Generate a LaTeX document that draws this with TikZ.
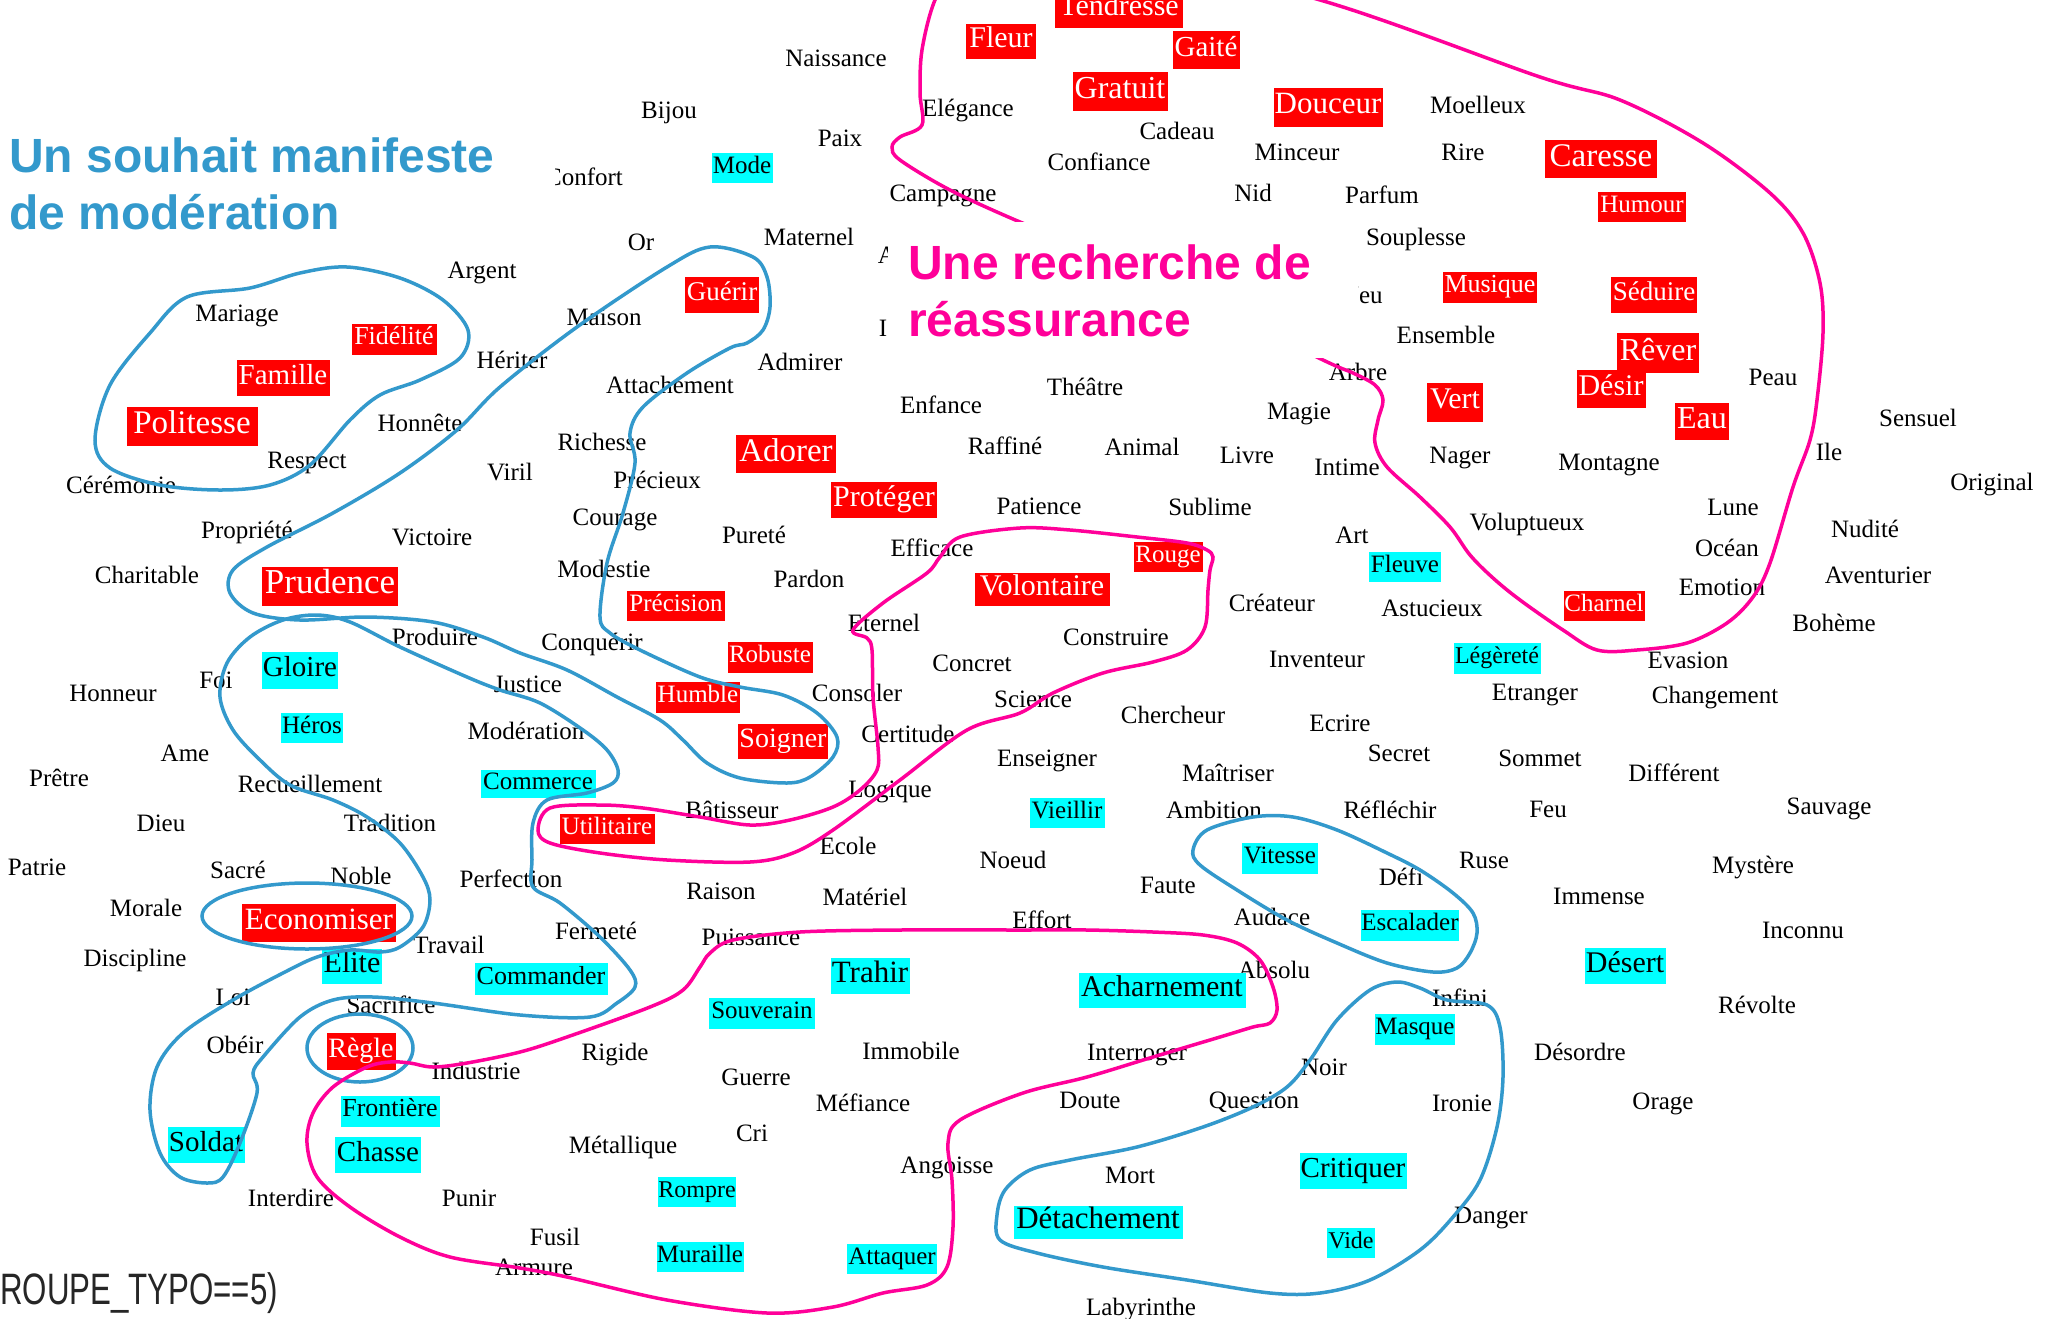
\documentclass[tikz,border=0pt]{standalone}
\usepackage{graphicx}
\usepackage{fontspec}
\setmainfont{Liberation Serif}
\newfontfamily\titlefont{Liberation Sans}
\usepackage{tikz}
\usetikzlibrary{positioning}
\definecolor{loopblue}{RGB}{51,153,204}
\definecolor{looppink}{RGB}{255,0,153}
\definecolor{hlred}{RGB}{255,0,0}
\definecolor{hlcyan}{RGB}{0,255,255}
\newcommand{\wsz}[1]{\fontsize{#1}{#1}\selectfont}

\begin{document}
\begin{tikzpicture}[x=1pt,y=-1pt,
  word/.style={font=\wsz{25},inner sep=0pt,text height=21,text depth=4},
  redw/.style={fill=hlred,text=white,inner sep=0pt,font=\wsz{#1},text height={0.66*#1},text depth={0.22*#1}},
  cyanw/.style={fill=hlcyan,text=black,inner sep=0pt,font=\wsz{#1},text height={0.66*#1},text depth={0.22*#1}},
  blueloop/.style={draw=loopblue,line width=3.5pt},
  pinkloop/.style={draw=looppink,line width=3.5pt},
  bigtitle/.style={anchor=base west,inner sep=0pt,font=\titlefont\bfseries\wsz{48}}]
\useasboundingbox (0,0) rectangle (2056,1318);
\fill[white] (0,0) rectangle (2056,1318);

% plain words
\node (naissance) [word] at (836,58) {Naissance};
\node (bijou) [word] at (669,110) {Bijou};
\node (paix) [word] at (840,138) {Paix};
\node (confort) [word] at (584,177) {Confort};
\node (or) [word] at (641,242) {Or};
\node (maternel) [word] at (809,237) {Maternel};
\node (argent) [word] at (482,270) {Argent};
\node (mariage) [word] at (237,313) {Mariage};
\node (maison) [word] at (604,317) {Maison};
\node (heriter) [word] at (512,360) {Hériter};
\node (admirer) [word] at (800,362) {Admirer};
\node (attachement) [word] at (670,385) {Attachement};
\node (honnete) [word] at (420,423) {Honnête};
\node (respect) [word] at (307,460) {Respect};
\node (ceremonie) [word] at (121,485) {Cérémonie};
\node (viril) [word] at (510,472) {Viril};
\node (richesse) [word] at (602,442) {Richesse};
\node (precieux) [word] at (657,480) {Précieux};
\node (propriete) [word] at (247,530) {Propriété};
\node (victoire) [word] at (432,537) {Victoire};
\node (charitable) [word] at (147,575) {Charitable};
\node (courage) [word] at (615,517) {Courage};
\node (purete) [word] at (754,535) {Pureté};
\node (modestie) [word] at (604,569) {Modestie};
\node (pardon) [word] at (809,579) {Pardon};
\node (produire) [word] at (435,637) {Produire};
\node (foi) [word] at (216,680) {Foi};
\node (honneur) [word] at (113,693) {Honneur};
\node (justice) [word] at (528,684) {Justice};
\node (conquerir) [word] at (592,642) {Conquérir};
\node (moderation) [word] at (526,731) {Modération};
\node (ame) [word] at (185,753) {Ame};
\node (pretre) [word] at (59,778) {Prêtre};
\node (recueillement) [word] at (310,784) {Recueillement};
\node (dieu) [word] at (161,823) {Dieu};
\node (tradition) [word] at (390,823) {Tradition};
\node (patrie) [word] at (37,867) {Patrie};
\node (sacre) [word] at (238,870) {Sacré};
\node (noble) [word] at (361,876) {Noble};
\node (perfection) [word] at (511,879) {Perfection};
\node (morale) [word] at (146,908) {Morale};
\node (discipline) [word] at (135,958) {Discipline};
\node (travail) [word] at (449,945) {Travail};
\node (loi) [word] at (233,997) {Loi};
\node (sacrifice) [word] at (391,1005) {Sacrifice};
\node (obeir) [word] at (235,1045) {Obéir};
\node (industrie) [word] at (476,1071) {Industrie};
\node (interdire) [word] at (291,1198) {Interdire};
\node (punir) [word] at (469,1198) {Punir};
\node (armure) [word] at (534,1267) {Armure};
\node (fusil) [word] at (555,1237) {Fusil};
\node (metallique) [word] at (623,1145) {Métallique};
\node (rigide) [word] at (615,1052) {Rigide};
\node (raison) [word] at (721,891) {Raison};
\node (materiel) [word] at (865,897) {Matériel};
\node (fermete) [word] at (596,931) {Fermeté};
\node (puissance) [word] at (751,937) {Puissance};
\node (guerre) [word] at (756,1077) {Guerre};
\node (immobile) [word] at (911,1051) {Immobile};
\node (mefiance) [word] at (863,1103) {Méfiance};
\node (cri) [word] at (752,1133) {Cri};
\node (angoisse) [word] at (947,1165) {Angoisse};
\node (batisseur) [word] at (732,810) {Bâtisseur};
\node (ecole) [word] at (848,846) {Ecole};
\node (logique) [word] at (890,789) {Logique};
\node (certitude) [word] at (908,734) {Certitude};
\node (consoler) [word] at (857,693) {Consoler};
\node (eternel) [word] at (884,623) {Eternel};
\node (efficace) [word] at (932,548) {Efficace};
\node (noeud) [word] at (1013,860) {Noeud};
\node (enseigner) [word] at (1047,758) {Enseigner};
\node (science) [word] at (1033,699) {Science};
\node (concret) [word] at (972,663) {Concret};
\node (patience) [word] at (1039,506) {Patience};
\node (raffine) [word] at (1005,446) {Raffiné};
\node (enfance) [word] at (941,405) {Enfance};
\node (elegance) [word] at (968,108) {Elégance};
\node (campagne) [word] at (943,193) {Campagne};
\node (confiance) [word] at (1099,162) {Confiance};
\node (cadeau) [word] at (1177,131) {Cadeau};
\node (theatre) [word] at (1085,387) {Théâtre};
\node (animal) [word] at (1142,447) {Animal};
\node (livre) [word] at (1247,455) {Livre};
\node (sublime) [word] at (1210,507) {Sublime};
\node (construire) [word] at (1116,637) {Construire};
\node (chercheur) [word] at (1173,715) {Chercheur};
\node (maitriser) [word] at (1228,773) {Maîtriser};
\node (ambition) [word] at (1214,810) {Ambition};
\node (effort) [word] at (1042,920) {Effort};
\node (faute) [word] at (1168,885) {Faute};
\node (interroger) [word] at (1137,1052) {Interroger};
\node (doute) [word] at (1090,1100) {Doute};
\node (mort) [word] at (1130,1175) {Mort};
\node (labyrinthe) [word] at (1141,1307) {Labyrinthe};
\node (minceur) [word] at (1297,152) {Minceur};
\node (nid) [word] at (1253,193) {Nid};
\node (parfum) [word] at (1382,195) {Parfum};
\node (moelleux) [word] at (1478,105) {Moelleux};
\node (rire) [word] at (1463,152) {Rire};
\node (souplesse) [word] at (1416,237) {Souplesse};
\node (jeu) [word] at (1366,295) {Jeu};
\node (ensemble) [word] at (1446,335) {Ensemble};
\node (arbre) [word] at (1358,372) {Arbre};
\node (magie) [word] at (1299,411) {Magie};
\node (intime) [word] at (1347,467) {Intime};
\node (nager) [word] at (1460,455) {Nager};
\node (montagne) [word] at (1609,462) {Montagne};
\node (peau) [word] at (1773,377) {Peau};
\node (sensuel) [word] at (1918,418) {Sensuel};
\node (ile) [word] at (1829,452) {Ile};
\node (original) [word] at (1992,482) {Original};
\node (voluptueux) [word] at (1527,522) {Voluptueux};
\node (art) [word] at (1352,535) {Art};
\node (createur) [word] at (1272,603) {Créateur};
\node (astucieux) [word] at (1432,608) {Astucieux};
\node (inventeur) [word] at (1317,659) {Inventeur};
\node (etranger) [word] at (1535,692) {Etranger};
\node (ecrire) [word] at (1340,723) {Ecrire};
\node (secret) [word] at (1399,753) {Secret};
\node (sommet) [word] at (1540,758) {Sommet};
\node (reflechir) [word] at (1390,810) {Réfléchir};
\node (feu) [word] at (1548,809) {Feu};
\node (ruse) [word] at (1484,860) {Ruse};
\node (defi) [word] at (1401,877) {Défi};
\node (audace) [word] at (1272,917) {Audace};
\node (absolu) [word] at (1274,970) {Absolu};
\node (infini) [word] at (1460,998) {Infini};
\node (noir) [word] at (1324,1067) {Noir};
\node (question) [word] at (1254,1100) {Question};
\node (ironie) [word] at (1462,1103) {Ironie};
\node (danger) [word] at (1491,1215) {Danger};
\node (lune) [word] at (1733,507) {Lune};
\node (nudite) [word] at (1865,529) {Nudité};
\node (ocean) [word] at (1727,548) {Océan};
\node (aventurier) [word] at (1878,575) {Aventurier};
\node (emotion) [word] at (1722,587) {Emotion};
\node (boheme) [word] at (1834,623) {Bohème};
\node (evasion) [word] at (1688,660) {Evasion};
\node (changement) [word] at (1715,695) {Changement};
\node (different) [word] at (1674,773) {Différent};
\node (sauvage) [word] at (1829,806) {Sauvage};
\node (mystere) [word] at (1753,865) {Mystère};
\node (immense) [word] at (1599,896) {Immense};
\node (inconnu) [word] at (1803,930) {Inconnu};
\node (revolte) [word] at (1757,1005) {Révolte};
\node (desordre) [word] at (1580,1052) {Désordre};
\node (orage) [word] at (1663,1101) {Orage};
\node (cutA) [word] at (887,255) {A};
\node (cutI) [word] at (883,328) {I};

% red words
\node (tendresse) [redw=30,minimum width=128,minimum height=38] at (1119,9) {Tendresse};
\node (fleur) [redw=30,minimum width=70,minimum height=35] at (1001,41) {Fleur};
\node (gaite) [redw=29,minimum width=67,minimum height=38] at (1206,50) {Gaité};
\node (gratuit) [redw=32,minimum width=95,minimum height=39] at (1120,91) {Gratuit};
\node (douceur) [redw=31,minimum width=109,minimum height=39] at (1328,107) {Douceur};
\node (caresse) [redw=33,minimum width=112,minimum height=38] at (1601,159) {Caresse};
\node (humour) [redw=25,minimum width=88,minimum height=30] at (1642,207) {Humour};
\node (musique) [redw=26,minimum width=94,minimum height=31] at (1490,287) {Musique};
\node (seduire) [redw=27,minimum width=86,minimum height=36] at (1654,295) {Séduire};
\node (rever) [redw=32,minimum width=82,minimum height=40] at (1658,353) {Rêver};
\node (desir) [redw=30,minimum width=69,minimum height=38] at (1611,389) {Désir};
\node (eau) [redw=32,minimum width=54,minimum height=37] at (1702,421) {Eau};
\node (vert) [redw=30,minimum width=56,minimum height=39] at (1455,402) {Vert};
\node (charnel) [redw=25,minimum width=81,minimum height=30] at (1604,606) {Charnel};
\node (guerir) [redw=27,minimum width=74,minimum height=36] at (722,295) {Guérir};
\node (fidelite) [redw=26,minimum width=85,minimum height=31] at (394,339) {Fidélité};
\node (famille) [redw=29,minimum width=93,minimum height=36] at (283,378) {Famille};
\node (politesse) [redw=33,minimum width=131,minimum height=39] at (192,426) {Politesse};
\node (prudence) [redw=35,minimum width=136,minimum height=39] at (330,586) {Prudence};
\node (adorer) [redw=33,minimum width=100,minimum height=38] at (786,454) {Adorer};
\node (proteger) [redw=30,minimum width=106,minimum height=36] at (884,500) {Protéger};
\node (precision) [redw=25,minimum width=98,minimum height=30] at (676,606) {Précision};
\node (robuste) [redw=25,minimum width=85,minimum height=31] at (770,657) {Robuste};
\node (humble) [redw=25,minimum width=84,minimum height=31] at (698,697) {Humble};
\node (soigner) [redw=28,minimum width=90,minimum height=35] at (783,741) {Soigner};
\node (utilitaire) [redw=25,minimum width=95,minimum height=30] at (607,829) {Utilitaire};
\node (economiser) [redw=31,minimum width=154,minimum height=38] at (319,923) {Economiser};
\node (regle) [redw=28,minimum width=69,minimum height=37] at (361,1051) {Règle};
\node (volontaire) [redw=30,minimum width=135,minimum height=33] at (1042,589) {Volontaire};
\node (rouge) [redw=25,minimum width=69,minimum height=30] at (1168,557) {Rouge};

% cyan words
\node (mode) [cyanw=25,minimum width=61,minimum height=30] at (742,168) {Mode};
\node (gloire) [cyanw=29,minimum width=76,minimum height=37] at (300,670) {Gloire};
\node (heros) [cyanw=25,minimum width=62,minimum height=30] at (312,728) {Héros};
\node (commerce) [cyanw=25,minimum width=115,minimum height=28] at (538,784) {Commerce};
\node (elite) [cyanw=30,minimum width=60,minimum height=35] at (352,966) {Elite};
\node (commander) [cyanw=26,minimum width=133,minimum height=32] at (541,979) {Commander};
\node (frontiere) [cyanw=26,minimum width=99,minimum height=31] at (390,1111) {Frontière};
\node (soldat) [cyanw=29,minimum width=77,minimum height=36] at (206,1145) {Soldat};
\node (chasse) [cyanw=29,minimum width=86,minimum height=36] at (378,1155) {Chasse};
\node (vieillir) [cyanw=25,minimum width=75,minimum height=30] at (1067,813) {Vieillir};
\node (trahir) [cyanw=31,minimum width=79,minimum height=36] at (870,976) {Trahir};
\node (souverain) [cyanw=25,minimum width=106,minimum height=31] at (762,1013) {Souverain};
\node (rompre) [cyanw=24,minimum width=78,minimum height=30] at (697,1192) {Rompre};
\node (muraille) [cyanw=25,minimum width=87,minimum height=30] at (700,1257) {Muraille};
\node (attaquer) [cyanw=25,minimum width=90,minimum height=30] at (892,1259) {Attaquer};
\node (acharnement) [cyanw=30,minimum width=167,minimum height=35] at (1162,990) {Acharnement};
\node (vitesse) [cyanw=25,minimum width=76,minimum height=31] at (1280,858) {Vitesse};
\node (escalader) [cyanw=25,minimum width=97,minimum height=31] at (1410,925) {Escalader};
\node (masque) [cyanw=25,minimum width=79,minimum height=31] at (1415,1029) {Masque};
\node (critiquer) [cyanw=29,minimum width=107,minimum height=36] at (1353,1171) {Critiquer};
\node (detachement) [cyanw=31,minimum width=169,minimum height=33] at (1098,1222) {Détachement};
\node (vide) [cyanw=24,minimum width=48,minimum height=30] at (1351,1243) {Vide};
\node (desert) [cyanw=30,minimum width=81,minimum height=36] at (1625,966) {Désert};
\node (fleuve) [cyanw=25,minimum width=72,minimum height=30] at (1405,567) {Fleuve};
\node (legerete) [cyanw=24,minimum width=87,minimum height=31] at (1497,658) {Légèreté};

% blue groups
\draw[blueloop] plot[smooth cycle,tension=0.55] coordinates {(187,297) (250,288) (300,273) (347,267) (400,278) (443,300) (468,330) (460,358) (420,380) (380,395) (350,420) (310,465) (270,485) (220,490) (160,485) (110,468) (95,440) (110,385) (150,333)};
\draw[blueloop] plot[smooth cycle,tension=0.55] coordinates {(710,247) (753,257) (767,277) (770,307) (763,330) (747,343) (730,348) (687,373) (643,407) (630,433) (635,463) (623,513) (607,563) (600,617) (610,633) (640,650) (700,677) (740,687) (783,695) (817,713) (837,737) (833,757) (810,777) (787,783) (740,778) (707,763) (683,740) (660,720) (617,697) (567,670) (520,653) (483,637) (433,622) (367,617) (300,620) (253,613) (230,593) (233,570) (267,547) (333,513) (400,473) (457,430) (500,387) (577,327) (667,267)};
\draw[blueloop] plot[smooth cycle,tension=0.55] coordinates {(500,690) (467,677) (400,647) (350,622) (317,615) (283,620) (250,637) (227,663) (220,697) (233,730) (260,760) (290,785) (333,800) (367,817) (400,843) (423,877) (430,900) (423,927) (400,947) (380,952) (350,950) (317,957) (283,973) (233,1000) (183,1033) (157,1067) (150,1110) (160,1153) (180,1177) (207,1183) (223,1177) (240,1143) (257,1093) (253,1073) (263,1057) (300,1017) (333,1000) (373,997) (433,1003) (520,1015) (590,1017) (617,1003) (635,987) (630,970) (600,937) (560,903) (533,887) (532,860) (533,823) (547,800) (587,793) (613,783) (618,770) (607,750) (583,730) (540,703)};
\draw[blueloop] (307,916) ellipse [x radius=105,y radius=33];
\draw[blueloop] (360,1048) ellipse [x radius=53,y radius=34];
\draw[blueloop] plot[smooth cycle,tension=0.55] coordinates {(1193,850) (1207,830) (1253,817) (1293,817) (1337,830) (1387,853) (1420,870) (1453,893) (1473,913) (1477,933) (1470,953) (1457,968) (1433,972) (1387,963) (1337,943) (1287,920) (1237,890) (1200,865)};
\draw[blueloop] plot[smooth cycle,tension=0.55] coordinates {(1000,1240) (997,1215) (1005,1190) (1030,1170) (1070,1160) (1137,1147) (1203,1127) (1253,1107) (1287,1087) (1310,1060) (1337,1020) (1370,990) (1397,982) (1420,988) (1447,1000) (1487,1005) (1500,1027) (1503,1077) (1497,1127) (1480,1180) (1453,1217) (1420,1250) (1370,1280) (1320,1293) (1270,1293) (1187,1280) (1103,1267) (1037,1253)};

% pink groups
\draw[pinkloop] plot[smooth cycle,tension=0.55] coordinates {(1020,222) (950,190) (900,160) (892,147) (900,137) (922,125) (920,93) (922,50) (935,0) (960,-40) (1100,-50) (1320,0) (1540,77) (1620,100) (1703,143) (1770,193) (1803,233) (1820,283) (1823,333) (1817,400) (1810,440) (1793,487) (1770,563) (1753,597) (1727,623) (1687,643) (1637,650) (1597,650) (1563,630) (1520,600) (1493,578) (1470,555) (1450,527) (1420,497) (1387,467) (1375,443) (1378,420) (1383,400) (1375,385) (1353,373) (1323,360) (1200,300) (1080,245)};
\draw[pinkloop] plot[smooth cycle,tension=0.55] coordinates {(1020,528) (960,537) (940,557) (927,573) (883,603) (853,630) (867,638) (872,650) (873,697) (878,747) (877,770) (860,790) (833,807) (790,820) (750,825) (700,817) (643,808) (600,805) (550,808) (538,830) (550,843) (600,853) (667,860) (750,862) (793,853) (833,830) (900,780) (967,730) (1020,713) (1053,693) (1103,673) (1153,662) (1187,650) (1205,627) (1208,590) (1210,570) (1213,557) (1207,550) (1187,543) (1137,537) (1070,530)};
\draw[pinkloop] plot[smooth cycle,tension=0.55] coordinates {(520,1052) (467,1063) (433,1067) (410,1063) (390,1062) (367,1067) (333,1087) (313,1113) (307,1143) (317,1177) (350,1207) (400,1237) (450,1257) (520,1268) (567,1277) (667,1300) (767,1313) (833,1307) (883,1293) (927,1285) (947,1267) (953,1227) (952,1180) (948,1143) (960,1120) (1023,1093) (1087,1077) (1153,1057) (1220,1037) (1253,1027) (1270,1023) (1277,1010) (1273,987) (1260,960) (1237,943) (1203,935) (1153,932) (1087,930) (1020,930) (900,930) (800,932) (733,940) (710,953) (700,967) (683,990) (650,1007) (567,1037)};

% titles
\fill[white] (0,113) rectangle (555,250);
\node (bluetitlea) [bigtitle,text=loopblue] at (9,172) {Un souhait manifeste};
\node (bluetitleb) [bigtitle,text=loopblue] at (9,229) {de modération};
\fill[white] (888,222) rectangle (1358,358);
\node (pinktitlea) [bigtitle,text=looppink] at (908,279) {Une recherche de};
\node (pinktitleb) [bigtitle,text=looppink] at (908,336) {réassurance};

\node (grouptypo) [anchor=base west,inner sep=0pt,font=\titlefont\wsz{44},text=black!85] at (0,1304) {\scalebox{0.71}[1]{ROUPE\_TYPO==5)}};
\end{tikzpicture}
\end{document}
